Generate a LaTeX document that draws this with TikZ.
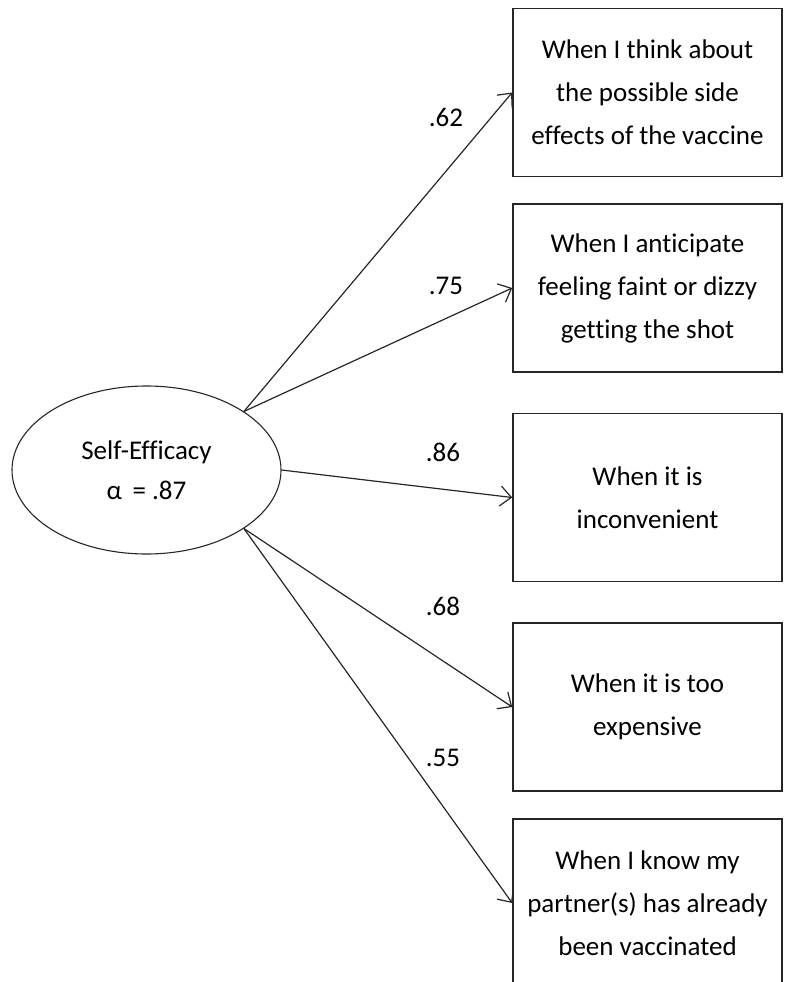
\documentclass[tikz,border=0pt]{standalone}
\usepackage{fontspec}
\setmainfont{Carlito}[Ligatures={NoCommon}]
\usetikzlibrary{shapes.geometric,arrows.meta}
\begin{document}
\begin{tikzpicture}[x=1pt,y=-1pt,
  line col/.style={draw=black!85},
  itembox/.style={line col, line width=1.6pt, rectangle, minimum width=269pt,
    minimum height=168pt, align=center, inner sep=0pt,
    font=\fontsize{27}{43}\selectfont},
  latent/.style={line col, line width=1.1pt, ellipse, minimum width=269pt,
    minimum height=168pt, inner sep=0pt, align=center,
    font=\fontsize{27}{40}\selectfont},
  loading/.style={font=\fontsize{27}{32}\selectfont, inner sep=0pt},
  path/.style={line col, line width=1.2pt,
    -{Straight Barb[length=11pt,width=20pt,line width=1.2pt]}}
]
\path[use as bounding box, clip] (0,0) rectangle (785,982);

% latent factor
\node[latent] (sef) at (146.5,470) {Self-Efficacy\\α\,\ = .87};

% observed items
\node[itembox] (i1) at (647.5,92.5)  {When I think about\\the possible side\\effects of the vaccine};
\node[itembox] (i2) at (647.5,288)   {When I anticipate\\feeling faint or dizzy\\getting the shot};
\node[itembox] (i3) at (647.5,497.5) {When it is\\inconvenient};
\node[itembox] (i4) at (647.5,707)   {When it is too\\expensive};
\node[itembox] (i5) at (647.5,903)   {When I know my\\partner(s) has already\\been vaccinated};

% factor loadings
\draw[path] (sef.31.7)  -- (i1.west);
\draw[path] (sef.31.7)  -- (i2.west);
\draw[path] (sef.east)  -- (i3.west);
\draw[path] (sef.-31.7) -- (i4.west);
\draw[path] (sef.-31.7) -- (i5.west);

\node[loading] (l1) at (446,117) {.62};
\node[loading] (l2) at (446,286) {.75};
\node[loading] (l3) at (443,452) {.86};
\node[loading] (l4) at (443,606) {.68};
\node[loading] (l5) at (443,758) {.55};
\end{tikzpicture}
\end{document}
